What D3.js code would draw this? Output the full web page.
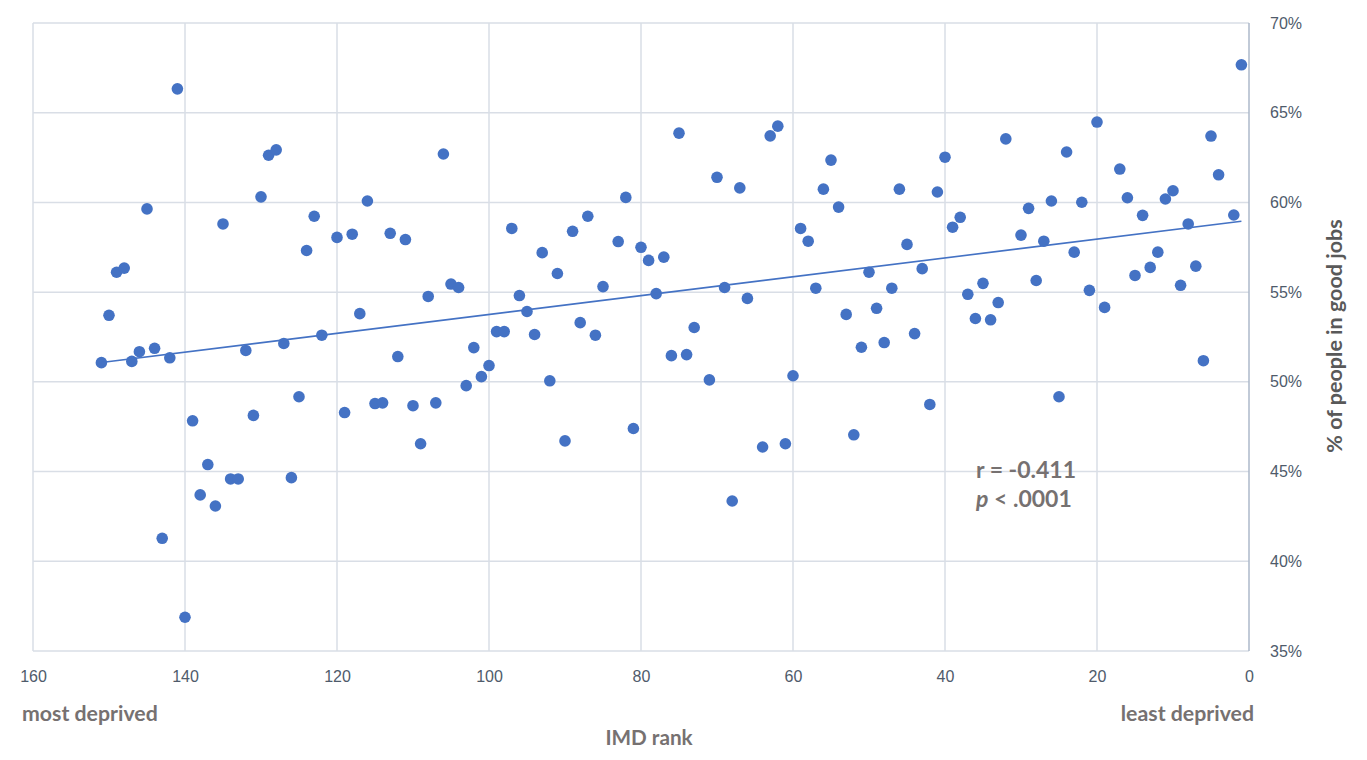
<!DOCTYPE html>
<html>
<head>
<meta charset="utf-8">
<script src="https://cdn.jsdelivr.net/npm/d3@7"></script>
<style>
  html, body { margin: 0; padding: 0; background: #ffffff; }
  svg { display: block; font-family: Lato, "Open Sans", "DejaVu Sans", sans-serif; }
</style>
</head>
<body>
<svg id="chart" width="1367" height="760"></svg>
<script>
// ---- data ----
const imdRank = [151,150,149,148,147,146,145,144,143,142,141,140,139,138,137,136,135,134,133,132,131,130,129,128,127,126,125,124,123,122,120,119,118,117,116,115,114,113,112,111,110,109,108,107,106,105,104,103,102,101,100,99,98,97,96,95,94,93,92,91,90,89,88,87,86,85,83,82,81,80,79,78,77,76,75,74,73,71,70,69,68,67,66,64,63,62,61,60,59,58,57,56,55,54,53,52,51,50,49,48,47,46,45,44,43,42,41,40,39,38,37,36,35,34,33,32,30,29,28,27,26,25,24,23,22,21,20,19,17,16,15,14,13,12,11,10,9,8,7,6,5,4,2,1];
const goodJobsPct = [51.07,53.71,56.11,56.34,51.14,51.68,59.64,51.87,41.28,51.34,66.33,36.88,47.83,43.70,45.39,43.08,58.80,44.59,44.59,51.75,48.13,60.31,62.63,62.93,52.14,44.66,49.17,57.32,59.23,52.60,58.05,48.29,58.23,53.80,60.08,48.79,48.83,58.28,51.41,57.93,48.67,46.55,54.76,48.83,62.70,55.45,55.26,49.79,51.91,50.29,50.91,52.80,52.80,58.55,54.81,53.92,52.64,57.20,50.06,56.04,46.71,58.39,53.30,59.23,52.60,55.31,57.82,60.28,47.40,57.50,56.77,54.92,56.95,51.46,63.86,51.52,53.03,50.11,61.40,55.26,43.36,60.81,54.65,46.37,63.71,64.25,46.55,50.34,58.55,57.84,55.22,60.74,62.36,59.74,53.76,47.05,51.93,56.11,54.10,52.19,55.22,60.74,57.66,52.69,56.31,48.74,60.58,62.52,58.62,59.17,54.88,53.53,55.49,53.46,54.42,63.54,58.18,59.67,55.65,57.84,60.08,49.17,62.81,57.23,60.01,55.10,64.48,54.15,61.86,60.26,55.93,59.28,56.38,57.23,60.19,60.65,55.38,58.80,56.45,51.18,63.70,61.54,59.30,67.67];
const xTicks = [160,140,120,100,80,60,40,20,0];
const yTicks = [35,40,45,50,55,60,65,70];
const xTitle = "IMD rank";
const yTitle = "% of people in good jobs";
const leftNote = "most deprived";
const rightNote = "least deprived";
const statR = "r = -0.411";
const statP = " < .0001";

// ---- layout ----
const svg = d3.select("#chart");
const x = d3.scaleLinear().domain([160, 0]).range([33, 1249]);
const y = d3.scaleLinear().domain([35, 70]).range([651, 23]);
const blue = "#4472C4";
const gridCol = "#D9DEE6";
const tickCol = "#4F5B6B";
const titleCol = "#767171";

// gridlines
svg.append("g").selectAll("line.h").data(yTicks).join("line")
  .attr("x1", x(160)).attr("x2", x(0))
  .attr("y1", d => y(d)).attr("y2", d => y(d))
  .attr("stroke", gridCol).attr("stroke-width", 1.5);
svg.append("g").selectAll("line.v").data(xTicks.filter(d => d !== 0)).join("line")
  .attr("x1", d => x(d)).attr("x2", d => x(d))
  .attr("y1", y(70)).attr("y2", y(35))
  .attr("stroke", gridCol).attr("stroke-width", 1.5);

// right axis line
svg.append("line")
  .attr("x1", x(0)).attr("x2", x(0)).attr("y1", y(70)).attr("y2", y(35))
  .attr("stroke", "#ADB9CA").attr("stroke-width", 1.5);

// x tick labels (bottom)
const xAxis = d3.axisBottom(x).tickValues(xTicks).tickSize(0).tickPadding(0);
const gx = svg.append("g").attr("transform", `translate(0, ${y(35) + 31})`).call(xAxis);
gx.select(".domain").remove();
gx.selectAll("text").attr("fill", tickCol).attr("font-size", 16).attr("dy", "0");

// y tick labels (right)
const yAxis = d3.axisRight(y).tickValues(yTicks).tickSize(0).tickPadding(0).tickFormat(d => d + "%");
const gy = svg.append("g").attr("transform", `translate(${x(0) + 21}, 0)`).call(yAxis);
gy.select(".domain").remove();
gy.selectAll("text").attr("fill", tickCol).attr("font-size", 16);

// trendline: least squares fit of the plotted data
const n = imdRank.length;
const mx = d3.mean(imdRank), my = d3.mean(goodJobsPct);
let sxy = 0, sxx = 0;
for (let i = 0; i < n; i++) { sxy += (imdRank[i] - mx) * (goodJobsPct[i] - my); sxx += (imdRank[i] - mx) ** 2; }
const slope = sxy / sxx, icpt = my - slope * mx;
const ext = d3.extent(imdRank);

// points
svg.append("g").selectAll("circle").data(imdRank).join("circle")
  .attr("cx", (d) => x(d))
  .attr("cy", (d, i) => y(goodJobsPct[i]))
  .attr("r", 5.8)
  .attr("fill", blue);

svg.append("line")
  .attr("x1", x(ext[1])).attr("y1", y(icpt + slope * ext[1]))
  .attr("x2", x(ext[0])).attr("y2", y(icpt + slope * ext[0]))
  .attr("stroke", blue).attr("stroke-width", 1.6);

// axis titles
svg.append("text").attr("x", 649).attr("y", 745).attr("text-anchor", "middle")
  .attr("font-size", 20.7).attr("font-weight", "bold").attr("fill", titleCol).text(xTitle);
svg.append("text").attr("x", 22).attr("y", 721)
  .attr("font-size", 21.3).attr("font-weight", "bold").attr("fill", titleCol).text(leftNote);
svg.append("text").attr("x", 1254).attr("y", 721).attr("text-anchor", "end")
  .attr("font-size", 21.3).attr("font-weight", "bold").attr("fill", titleCol).text(rightNote);
svg.append("text").attr("transform", "translate(1342, 336) rotate(-90)").attr("text-anchor", "middle")
  .attr("font-size", 21.5).attr("font-weight", "bold").attr("fill", "#595959").text(yTitle);

// stats annotation
svg.append("text").attr("x", 976).attr("y", 478)
  .attr("font-size", 23).attr("font-weight", "bold").attr("fill", titleCol).text(statR);
const pt = svg.append("text").attr("x", 976).attr("y", 507)
  .attr("font-size", 23).attr("font-weight", "bold").attr("fill", titleCol);
pt.append("tspan").attr("font-style", "italic").text("p");
pt.append("tspan").text(statP);
</script>
</body>
</html>
